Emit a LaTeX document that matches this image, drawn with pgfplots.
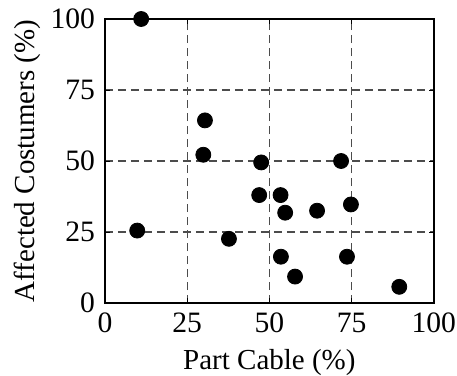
\documentclass[border=0pt]{standalone}
\usepackage{fontspec}
\setmainfont{Liberation Serif}
\usepackage{pgfplots}
\pgfplotsset{compat=1.18}
\begin{document}
\fontsize{14.5}{17}\selectfont
\begin{tikzpicture}
\begin{axis}[
  at={(0,0)}, anchor=south west,
  scale only axis,
  width=164.4pt, height=142pt,
  xmin=0, xmax=100, ymin=0, ymax=100,
  xtick={0,25,50,75,100}, ytick={0,25,50,75,100},
  /pgf/number format/assume math mode=true,
  tick label style={font=\fontsize{14.8}{17}\selectfont},
  label style={font=\fontsize{14.5}{17}\selectfont},
  xlabel={Part Cable (\%)},
  ylabel={Affected Costumers (\%)},
  grid=major,
  major grid style={black!70, line width=0.55pt, dash pattern=on 4pt off 2.5pt},
  axis line style={line width=0.8pt},
  tick style={black, line width=0.5pt},
  major tick length=2.5pt,
  tick align=inside,
  clip=false,
  xlabel style={yshift=1.5pt},
  ylabel style={yshift=-5pt},
]
\addplot[only marks, mark=*, mark size=3.75pt, mark options={fill=black, draw=black}] coordinates {
(11,100) (30.4,64.3) (29.9,52.2) (47.5,49.5) (71.8,50)
(46.9,38) (53.4,38) (54.8,31.8) (64.5,32.5) (74.8,34.7)
(9.8,25.5) (37.7,22.6) (53.5,16.3) (57.8,9.3) (73.6,16.3) (89.5,5.7)
};
\end{axis}
\pgfresetboundingbox
\useasboundingbox (-52.5pt,-36.5pt) rectangle (176pt,151.5pt);
\end{tikzpicture}
\end{document}
